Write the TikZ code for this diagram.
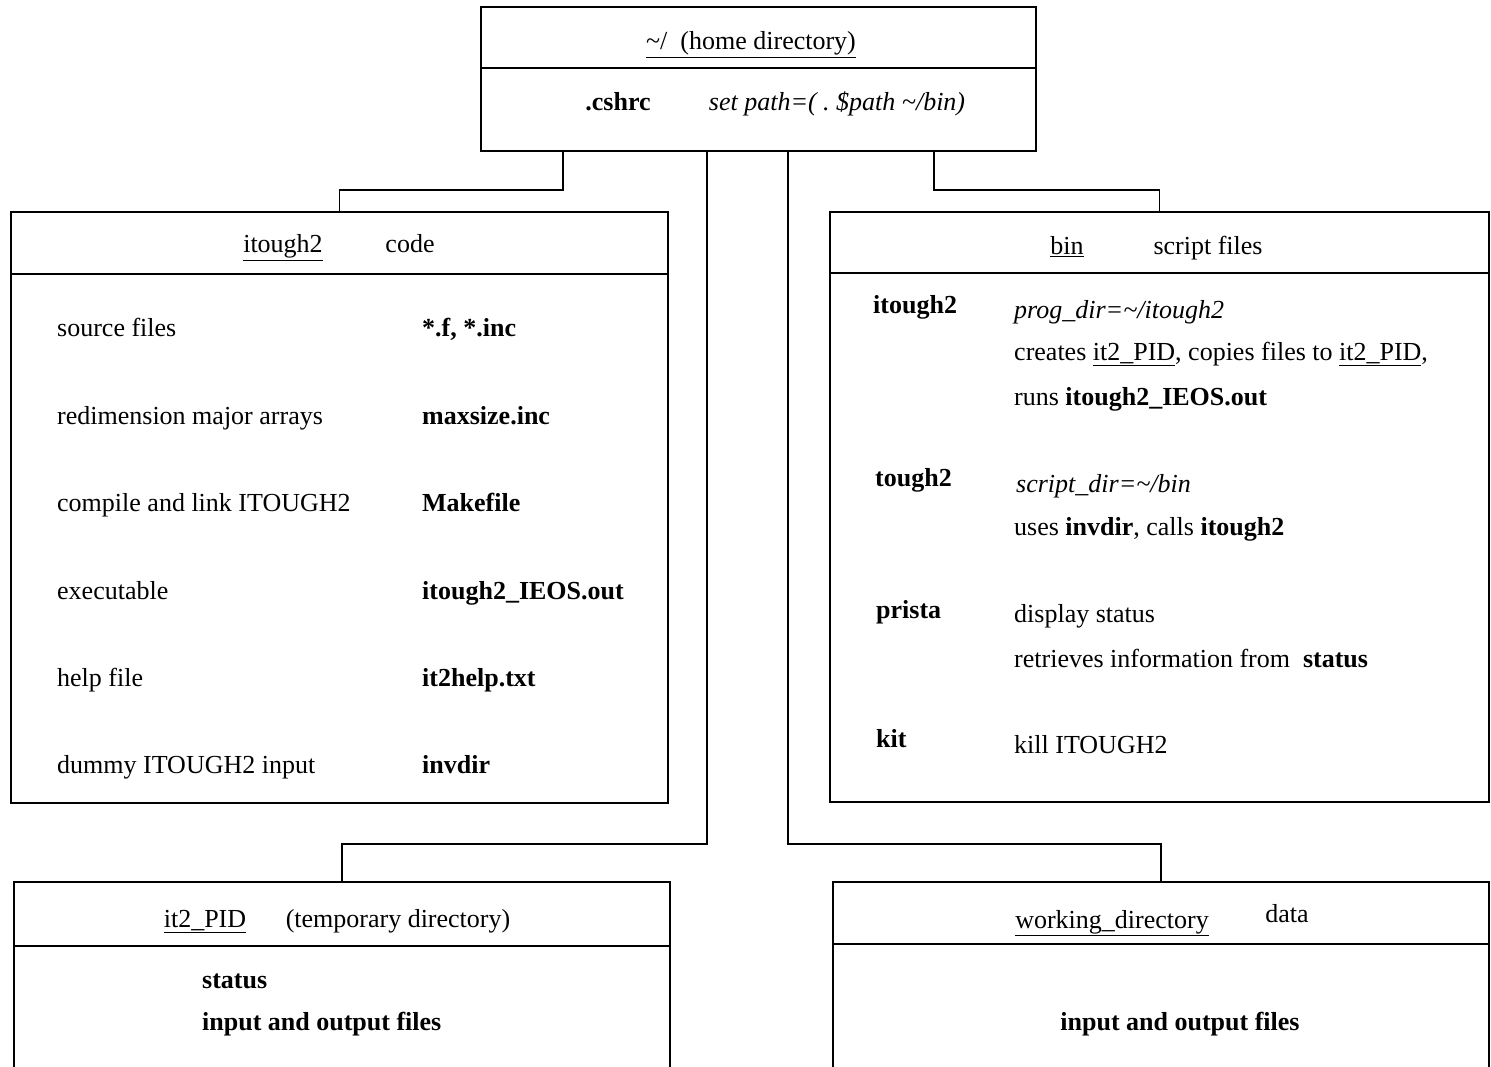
\documentclass[tikz,border=0pt]{standalone}
\usepackage{fontspec}
\setmainfont{Liberation Serif}
\begin{document}
\begin{tikzpicture}[x=1pt,y=1pt,
  box/.style={draw, line width=1.6pt, rectangle, inner sep=0pt},
  conn/.style={line width=1.6pt},
  txt/.style={anchor=base west, inner sep=0pt, font=\fontsize{26}{30}\selectfont},
  ctxt/.style={anchor=base, inner sep=0pt, font=\fontsize{26}{30}\selectfont}]
\useasboundingbox (0,0) rectangle (1491,-1067);
\clip (0,0) rectangle (1491,-1067);
% boxes
\node[box, minimum width=555pt, minimum height=144pt] (top) at (758.5,-79) {};
\node[box, minimum width=657pt, minimum height=591pt] (itough) at (339.5,-507.5) {};
\node[box, minimum width=659pt, minimum height=590pt] (bin) at (1159.5,-507) {};
\node[box, minimum width=656pt, minimum height=216pt] (pid) at (342,-990) {};
\node[box, minimum width=656pt, minimum height=216pt] (work) at (1161,-990) {};
% dividers
\draw[conn] (top.west |- 0,-68) -- (top.east |- 0,-68);
\draw[conn] (itough.west |- 0,-274) -- (itough.east |- 0,-274);
\draw[conn] (bin.west |- 0,-273) -- (bin.east |- 0,-273);
\draw[conn] (pid.west |- 0,-946) -- (pid.east |- 0,-946);
\draw[conn] (work.west |- 0,-944) -- (work.east |- 0,-944);
% connectors
\draw[conn] ([xshift=83pt]top.south west) -- ++(0,-38) -| (itough.north);
\draw[conn] ([xshift=227pt]top.south west) -- ++(0,-692) -| (pid.north);
\draw[conn] ([xshift=308pt]top.south west) -- ++(0,-692) -| (work.north);
\draw[conn] ([xshift=454pt]top.south west) -- ++(0,-38) -| (bin.north);
% top box text
\node[ctxt] (hometitle) at (751,-50) {\underline{\textasciitilde/\ \ (home directory)}};
\node[ctxt] (cshrc) at (618,-111) {\textbf{.cshrc}};
\node[ctxt] (setpath) at (837,-111) {\textit{set path=( .\ \$path \textasciitilde/bin)}};
% itough2 box
\node[ctxt] (ittitle) at (283,-253) {\underline{itough2}};
\node[ctxt] (itcode) at (410,-253) {code};
\node[txt] (l1) at (57,-337) {source files};
\node[txt] (r1) at (422,-337) {\textbf{*.f, *.inc}};
\node[txt] (l2) at (57,-424) {redimension major arrays};
\node[txt] (r2) at (422,-424) {\textbf{maxsize.inc}};
\node[txt] (l3) at (57,-511) {compile and link ITOUGH2};
\node[txt] (r3) at (422,-511) {\textbf{Makefile}};
\node[txt] (l4) at (57,-599) {executable};
\node[txt] (r4) at (422,-599) {\textbf{itough2\_IEOS.out}};
\node[txt] (l5) at (57,-686) {help file};
\node[txt] (r5) at (422,-686) {\textbf{it2help.txt}};
\node[txt] (l6) at (57,-773) {dummy ITOUGH2 input};
\node[txt] (r6) at (422,-773) {\textbf{invdir}};
% bin box
\node[ctxt] (bintitle) at (1067,-255) {\underline{bin}};
\node[ctxt] (binscript) at (1208,-255) {script files};
\node[txt] (b1) at (873,-313) {\textbf{itough2}};
\node[txt] (b1a) at (1014,-319) {\textit{prog\_dir=\textasciitilde/itough2}};
\node[txt] (b1b) at (1014,-360) {creates \underline{it2\_PID}, copies files to \underline{it2\_PID},};
\node[txt] (b1c) at (1014,-405) {runs \textbf{itough2\_IEOS.out}};
\node[txt] (b2) at (875,-486) {\textbf{tough2}};
\node[txt] (b2a) at (1016,-492) {\textit{script\_dir=\textasciitilde/bin}};
\node[txt] (b2b) at (1014,-535) {uses \textbf{invdir}, calls \textbf{itough2}};
\node[txt] (b3) at (876,-618) {\textbf{prista}};
\node[txt] (b3a) at (1014,-622) {display status};
\node[txt] (b3b) at (1014,-667) {retrieves information from\ \ \textbf{status}};
\node[txt] (b4) at (876,-747) {\textbf{kit}};
\node[txt] (b4a) at (1014,-753) {kill ITOUGH2};
% it2_PID box
\node[ctxt] (pidtitle) at (205,-927) {\underline{it2\_PID}};
\node[ctxt] (pidtemp) at (398,-927) {(temporary directory)};
\node[txt] (p1) at (202,-988) {\textbf{status}};
\node[txt] (p2) at (202,-1030) {\textbf{input and output files}};
% working directory box
\node[ctxt] (worktitle) at (1112,-928) {\underline{working\_directory}};
\node[ctxt] (workdata) at (1287,-922) {data};
\node[ctxt] (w1) at (1180,-1030) {\textbf{input and output files}};
\end{tikzpicture}
\end{document}
